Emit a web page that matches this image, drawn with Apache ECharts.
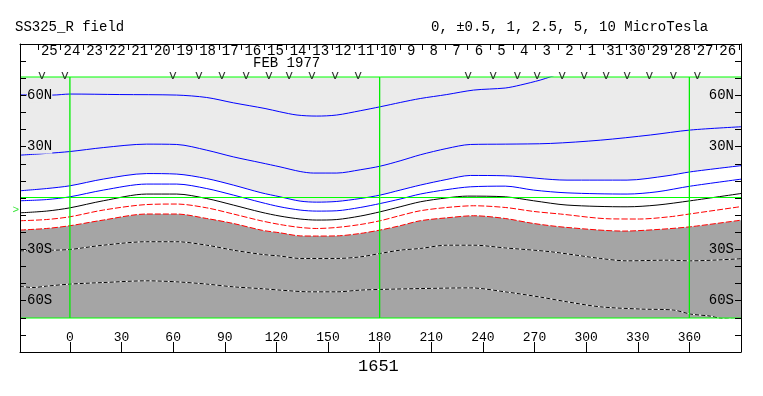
<!DOCTYPE html>
<html><head><meta charset="utf-8">
<script src="https://cdn.jsdelivr.net/npm/echarts@6/dist/echarts.min.js"></script>
<style>html,body{margin:0;padding:0;background:#fff}#c{width:763px;height:396px}</style>
</head><body><div id="c"></div>
<script>
// ---------------- data ----------------
const dateLabels = ['25','24','23','22','21','20','19','18','17','16','15','14','13','12','11','10','9','8','7','6','5','4','3','2','1','31','30','29','28','27','26'];
const lonTicks = [0,30,60,90,120,150,180,210,240,270,300,330,360];
const latLabelValues = [60,30,-30,-60];
const latLabelText = ['60N','30N','30S','60S'];
const vMarkLons = [-16.3,-2.9,59.9,75.0,88.4,102.4,115.7,127.4,140.7,154.1,167.5,231.5,246.0,260.0,271.6,286.1,298.9,311.7,323.9,336.7,350.7,364.7];
const b0Lat = -7.2;
const guideLats = [70, 0, -70];
const guideLons = [0, 180, 360];

// contour lines [longitude, latitude]
const cPos10 = [[-29,59.6],[-10,59.5],[0,60.1],[29,59.8],[62,59.5],[79.5,58.1],[95,55.0],[113.4,51.7],[122,49.8],[132,47.9],[143.4,47.3],[155,47.9],[168.7,50.4],[180.3,52.7],[192,55.2],[203.6,57.5],[219,59.8],[234.6,62.4],[253,63.6],[261.7,65.3],[273.3,68.2],[279.2,70.1],[285,72]];
const cPos5 = [[-29,24.6],[-13.6,25.6],[0,26.7],[19.4,29.0],[44.6,31.0],[62.1,30.8],[79.5,27.5],[95,23.6],[111,20.2],[122.1,17.8],[133.8,15.1],[141.5,14.2],[155.1,14.2],[168.7,16.1],[180.3,18.2],[191.9,21.3],[203.6,24.8],[219.1,28.5],[232.7,30.8],[253,31.0],[279.2,31.4],[308.2,33.3],[337.3,36.3],[360.6,39.2],[392,41.2]];
const cPos1 = [[-29,3.9],[-13.6,5.2],[0,6.8],[19.4,10.7],[44.6,13.9],[62.1,13.6],[79.5,11.0],[95,7.2],[111,2.8],[122.1,0.4],[133.8,-2.1],[143.4,-2.7],[155.1,-2.3],[168.7,-0.6],[180.3,1.4],[191.9,4.3],[203.6,7.2],[219.1,10.5],[232.7,12.8],[253,12.6],[288.9,10.1],[323.8,10.1],[347,12.6],[360.6,14.9],[392.6,18.8]];
const cPos05 = [[-29,-1.9],[-13.6,-1.2],[0,0.4],[19.4,4.3],[44.6,7.8],[62.1,7.8],[79.5,5.2],[95,1.4],[111,-2.8],[122.1,-5.4],[133.8,-7.3],[143.4,-7.9],[155.1,-7.7],[168.7,-5.8],[180.3,-3.5],[191.9,-0.9],[203.6,2.0],[219.1,4.6],[232.7,6.2],[253,6.6],[269.5,4.3],[288.9,2.7],[323.8,2.0],[341.2,3.3],[360.6,6.6],[392.6,11.0]];
const cZero = [[-29,-8.9],[-13.6,-7.9],[0,-6.0],[19.4,-1.9],[44.6,2.0],[62.1,2.0],[79.5,-0.6],[95,-4.4],[111,-8.5],[122.1,-10.8],[133.8,-12.5],[143.4,-13.1],[155.1,-12.8],[168.7,-10.8],[180.3,-8.3],[191.9,-5.4],[203.6,-2.5],[219.1,-0.2],[231,0.8],[253,0.4],[269.5,-1.9],[288.9,-4.4],[323.8,-5.4],[341.2,-4.4],[360.6,-1.9],[392.6,2.7]];
const cNeg05 = [[-29,-13.5],[-13.6,-12.8],[0,-11.2],[19.4,-7.3],[44.6,-4.1],[62.1,-3.8],[79.5,-6.0],[95,-9.6],[111,-13.5],[122.1,-15.7],[133.8,-17.4],[143.4,-18.0],[155.1,-17.4],[168.7,-15.7],[180.3,-13.5],[191.9,-10.5],[203.6,-7.7],[219.1,-5.8],[234.6,-4.8],[253,-5.8],[269.5,-8.1],[285,-9.6],[314,-12.4],[331,-12.5],[348.5,-11.2],[360,-9.6],[392,-5.0]];
const cNeg1 = [[-29,-18.9],[-13.6,-18.0],[0,-16.4],[19.4,-13.1],[44.6,-9.6],[62.1,-9.6],[79.5,-12.2],[95,-15.1],[112,-19.1],[122.1,-20.5],[133.8,-22.3],[143.4,-22.4],[155.1,-22.3],[168.7,-20.9],[180.3,-18.9],[191.9,-16.4],[203.6,-13.5],[219.1,-11.8],[234.6,-10.6],[253,-12.2],[269.5,-15.1],[288.9,-17.4],[322,-19.5],[341.2,-18.6],[360.6,-17.0],[392.6,-12.8]];
const cNeg25 = [[-29,-31.0],[-9.7,-30.6],[0,-30.2],[19.4,-27.7],[44.6,-25.7],[62.1,-25.7],[79.5,-27.7],[95,-30.6],[112,-33.1],[122.1,-34.0],[133.8,-35.4],[155.1,-35.4],[168.7,-34.5],[180.3,-32.5],[191.9,-30.6],[203.6,-29.6],[219.1,-27.7],[234.6,-27.7],[253,-29.3],[279.2,-31.5],[308.2,-35.4],[323.8,-36.8],[347,-36.4],[360.6,-36.8],[392.6,-35.4]];
const cNeg5 = [[-29,-51.5],[-21.5,-52.3],[-13.6,-51.5],[0,-50.3],[19.4,-49.4],[44.6,-48.4],[62.1,-49.0],[79.5,-50.3],[95,-51.9],[112,-53.0],[122.1,-53.8],[139.6,-54.8],[155.1,-54.8],[168.7,-53.8],[180.3,-53.4],[203.6,-52.9],[232.7,-52.5],[253,-54.8],[272.5,-57.7],[289,-60.6],[308.2,-63.5],[331.5,-64.8],[350.9,-65.4],[360.6,-67.7],[372.2,-68.9],[378,-70.2],[392,-71]];

// ---------------- chart ----------------
const FONT = 'Liberation Mono';
const LIGHT = '#ebebeb', DARK = '#a5a5a5';
const chart = echarts.init(document.getElementById('c'), null, {renderer:'canvas'});
const SM = 0.3;
function lineS(data, color, type, width) {
  return {type:'line', xAxisIndex:0, yAxisIndex:0, data:data, smooth:SM, symbol:'none', silent:true,
    lineStyle:{color:color, width:width||1, type:type||'solid'}, z:3};
}
function areaS(data, color) {
  return {type:'line', xAxisIndex:0, yAxisIndex:0, data:data, smooth:SM, symbol:'none', silent:true,
    lineStyle:{width:0}, areaStyle:{color:color, opacity:1, origin:'start'}, z:2};
}
const series = [
  areaS(cPos1, '#ffffff'),
  areaS(cNeg1, DARK),
  lineS(cPos10, '#0000ff'),
  lineS(cPos5, '#0000ff'),
  lineS(cPos1, '#0000ff'),
  lineS(cPos05, '#0000ff'),
  lineS(cZero, '#000000'),
  lineS(cNeg05, '#ff0000', [6,2]),
  lineS(cNeg1, '#ff0000', [6,2]),
  lineS(cNeg25, '#ffffff'),
  lineS(cNeg25, '#000000', [4,2]),
  lineS(cNeg5, '#ffffff'),
  lineS(cNeg5, '#000000', [4,2])
];
guideLats.forEach(function(la){
  series.push({type:'line', xAxisIndex:0, yAxisIndex:0, data:[[-29,la],[390,la]], symbol:'none', clip:false, silent:true,
    lineStyle:{color:'#00ff00', width:1}, z:4});
});
guideLons.forEach(function(lo){
  series.push({type:'line', xAxisIndex:0, yAxisIndex:0, data:[[lo,-70],[lo,70]], symbol:'none', clip:false, silent:true,
    lineStyle:{color:'#00ee00', width:1.3}, z:4});
});
series.push({type:'scatter', xAxisIndex:1, yAxisIndex:1, data:vMarkLons.map(function(l){return [l,71.6];}),
  symbolSize:1, itemStyle:{color:'rgba(0,0,0,0)'}, silent:true, clip:false,
  label:{show:true, position:'inside', formatter:'v', fontFamily:FONT, fontSize:13, color:'#000'}, z:6});
series.push({type:'scatter', xAxisIndex:1, yAxisIndex:1, data:[[-31.5,b0Lat]],
  symbolSize:1, itemStyle:{color:'rgba(0,0,0,0)'}, silent:true, clip:false,
  label:{show:true, position:'inside', formatter:'>', fontFamily:FONT, fontSize:11, color:'#00dd00'}, z:6});

const latFmt = function(v){
  const i = latLabelValues.indexOf(v);
  const t = i >= 0 ? latLabelText[i] : '';
  return v > 0 ? '{n|' + t + '}' : '{s|' + t + '}';
};
const latRich = {n:{backgroundColor:LIGHT, fontFamily:FONT, fontSize:14, color:'#000', padding:[0,0,0,0]},
                 s:{backgroundColor:DARK, fontFamily:FONT, fontSize:14, color:'#000', padding:[0,0,0,0]}};
const blackLine = {show:true, onZero:false, lineStyle:{color:'#000', width:1}};

const option = {
  animation:false,
  backgroundColor:'#ffffff',
  title:[
    {text:'SS325_R field', left:15, top:20, padding:0, textStyle:{fontFamily:FONT, fontSize:14, fontWeight:'normal', color:'#000'}},
    {text:'0, \u00b10.5, 1, 2.5, 5, 10 MicroTesla', left:431, top:20, padding:0, textStyle:{fontFamily:FONT, fontSize:14, fontWeight:'normal', color:'#000'}},
    {text:'FEB 1977', left:253, top:56, padding:0, textStyle:{fontFamily:FONT, fontSize:14, fontWeight:'normal', color:'#000'}},
    {text:'1651', left:358, top:358, padding:0, textStyle:{fontFamily:FONT, fontSize:17, fontWeight:'normal', color:'#000'}}
  ],
  grid:[
    {left:20, right:22, top:77, height:241, show:true, backgroundColor:LIGHT, borderWidth:0},
    {left:20, right:22, top:44, height:308, show:false},
    {left:38, right:24, top:44, height:10, show:false}
  ],
  xAxis:[
    {gridIndex:0, type:'value', min:-29, max:390, show:false},
    {gridIndex:1, type:'value', min:-29, max:390, position:'bottom', axisLine:blackLine,
      splitLine:{show:false},
      axisTick:{show:true, inside:true, length:10, customValues:lonTicks, lineStyle:{color:'#000'}},
      axisLabel:{show:true, inside:true, margin:8, customValues:lonTicks, fontFamily:FONT, fontSize:13, color:'#000'}},
    {gridIndex:1, type:'value', min:-29, max:390, position:'top', axisLine:blackLine,
      splitLine:{show:false}, axisTick:{show:false}, axisLabel:{show:false}},
    {gridIndex:2, type:'category', data:dateLabels, position:'top', boundaryGap:true,
      axisLine:{show:false, onZero:false}, splitLine:{show:false},
      axisTick:{show:true, inside:true, length:6, interval:0, lineStyle:{color:'#000'}},
      axisLabel:{show:true, inside:true, margin:0, interval:0, fontFamily:FONT, fontSize:14, color:'#000'}}
  ],
  yAxis:[
    {gridIndex:0, type:'value', min:-70, max:70, show:false},
    {gridIndex:1, type:'value', min:-90, max:90, interval:10, position:'left', z:10,
      axisLine:blackLine, splitLine:{show:false},
      axisTick:{show:true, inside:true, length:6, lineStyle:{color:'#000'}},
      axisLabel:{show:true, inside:true, margin:7, customValues:latLabelValues, formatter:latFmt, rich:latRich}},
    {gridIndex:1, type:'value', min:-90, max:90, interval:10, position:'right', z:10,
      axisLine:blackLine, splitLine:{show:false},
      axisTick:{show:true, inside:true, length:6, lineStyle:{color:'#000'}},
      axisLabel:{show:true, inside:true, margin:7, customValues:latLabelValues, formatter:latFmt, rich:latRich}},
    {gridIndex:2, type:'value', min:0, max:1, show:false}
  ],
  series:series
};
chart.setOption(option);
</script>
</body></html>
